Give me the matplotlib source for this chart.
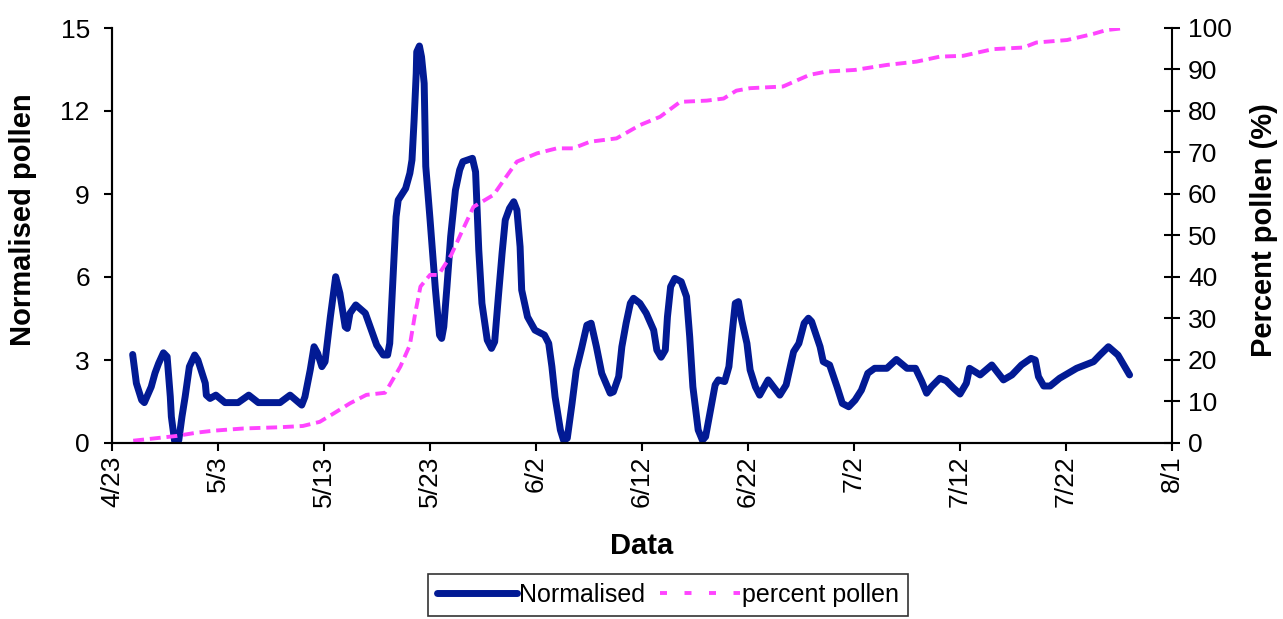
import matplotlib
matplotlib.use("Agg")
import matplotlib.pyplot as plt
import numpy as np
import pandas as pd

plt.rcParams['font.family'] = ['Liberation Sans', 'DejaVu Sans']

# days after 4/23
norm_days = [1.95, 2.3, 2.8, 3.05, 3.7, 4.06, 4.4, 4.85, 5.2, 5.5, 5.6, 5.9, 6.3, 6.6, 6.9,
             7.3, 7.8, 8.1, 8.8, 8.9, 9.25, 9.8, 10.66, 11.9, 12.9, 13.8, 15.85, 16.8, 17.9,
             18.2, 18.7, 19.06, 19.4, 19.8, 20.1, 20.6, 21.1, 21.5, 22.0, 22.2, 22.45, 23.0,
             23.9, 24.3, 24.97, 25.6, 26.0, 26.2, 26.5, 26.8, 27.0, 27.7, 28.1, 28.3, 28.5,
             28.7, 28.75, 29.0, 29.2, 29.45, 29.6, 30.0, 30.5, 30.9, 31.1, 31.3, 31.6, 31.95,
             32.4, 32.8, 33.1, 34.0, 34.3, 34.6, 34.9, 35.4, 35.8, 36.1, 36.45, 36.8, 37.1,
             37.5, 37.9, 38.2, 38.5, 38.65, 39.2, 39.9, 40.8, 41.2, 41.5, 41.8, 42.3, 42.6,
             42.95, 43.4, 43.8, 44.3, 44.8, 45.2, 45.7, 46.2, 47.0, 47.3, 47.8, 48.1, 48.5,
             48.9, 49.2, 49.8, 50.4, 51.1, 51.4, 51.8, 52.2, 52.4, 52.7, 53.1, 53.7, 54.2,
             54.5, 54.8, 55.3, 55.7, 56.0, 56.4, 56.9, 57.2, 57.8, 58.2, 58.5, 58.8, 59.1,
             59.4, 59.9, 60.2, 60.7, 61.1, 61.9, 63.0, 63.6, 64.3, 64.8, 65.3, 65.7, 66.0,
             66.8, 67.1, 67.7, 68.4, 68.9, 69.5, 70.1, 70.7, 71.3, 71.95, 73.1, 74.0, 75.0,
             75.8, 76.4, 76.85, 77.3, 78.1, 78.7, 79.4, 80.0, 80.6, 80.9, 81.9, 83.0, 84.1,
             84.9, 85.8, 86.7, 87.1, 87.4, 87.9, 88.5, 89.4, 91.0, 92.6, 93.2, 94.0, 94.9, 96.0]
normalised = [3.2, 2.16, 1.55, 1.46, 2.03, 2.53, 2.88, 3.26, 3.12, 1.67, 0.95, 0.08, 0.1, 0.95, 1.67,
              2.76, 3.18, 3.0, 2.16, 1.73, 1.61, 1.73, 1.46, 1.46, 1.73, 1.46, 1.46, 1.73, 1.37,
              1.67, 2.64, 3.48, 3.24, 2.76, 2.94, 4.56, 6.01, 5.41, 4.2, 4.14, 4.69, 4.99,
              4.69, 4.26, 3.54, 3.18, 3.18, 3.6, 5.89, 8.18, 8.78, 9.2, 9.75, 10.23, 11.67,
              13.36, 14.14, 14.35, 13.96, 13.0, 10.0, 8.1, 5.6, 3.9, 3.78, 4.2, 5.65, 7.46,
              9.14, 9.87, 10.17, 10.29, 9.8, 6.98, 5.05, 3.72, 3.42, 3.66, 5.29, 6.86, 8.06,
              8.48, 8.72, 8.42, 7.09, 5.53, 4.56, 4.08, 3.9, 3.6, 2.76, 1.67, 0.47, 0.1,
              0.17, 1.43, 2.64, 3.42, 4.26, 4.33, 3.48, 2.52, 1.8, 1.85, 2.4, 3.48, 4.33,
              5.05, 5.23, 5.05, 4.69, 4.08, 3.36, 3.1, 3.36, 4.56, 5.65, 5.95, 5.83, 5.29,
              3.84, 2.03, 0.47, 0.1, 0.23, 1.07, 2.1, 2.28, 2.22, 2.76, 3.96, 5.05, 5.11,
              4.45, 3.6, 2.64, 2.03, 1.73, 2.28, 1.73, 2.1, 3.3, 3.6, 4.33, 4.51, 4.39,
              3.48, 2.94, 2.82, 2.03, 1.43, 1.31, 1.55, 1.91, 2.52, 2.7, 2.7, 3.02, 2.7,
              2.7, 2.22, 1.8, 2.03, 2.34, 2.25, 1.98, 1.77, 2.16, 2.7, 2.46, 2.82, 2.28,
              2.46, 2.82, 3.06, 3.0, 2.4, 2.06, 2.06, 2.34, 2.7, 2.94, 3.18, 3.48, 3.18, 2.46]

pct_days = [2.0, 6.1, 8.0, 9.6, 12.4, 15.85, 18.0, 19.6, 20.9, 22.45, 24.0, 25.75, 26.2, 27.2,
            28.1, 28.6, 29.1, 30.0, 30.8, 32.0, 33.0, 34.1, 36.0, 37.2, 38.2, 40.1, 41.95,
            43.5, 45.1, 47.6, 49.8, 51.7, 53.6, 56.1, 57.7, 58.9, 60.2, 63.3, 65.8, 67.4,
            70.1, 73.1, 75.9, 78.1, 80.3, 83.1, 86.0, 87.2, 90.1, 92.6, 93.8, 95.6]
percent_pollen = [0.55, 1.7, 2.5, 2.97, 3.5, 3.8, 4.1, 5.1, 7.1, 9.56, 11.6, 12.1, 14.0, 18.4,
                  23.6, 31.2, 37.7, 40.5, 40.5, 45.3, 50.9, 56.9, 59.8, 64.2, 67.8, 69.8, 71.0,
                  71.0, 72.6, 73.4, 76.6, 78.6, 82.2, 82.5, 83.0, 84.9, 85.5, 85.9, 88.7, 89.5,
                  89.9, 91.1, 91.9, 93.1, 93.3, 94.9, 95.3, 96.5, 97.1, 98.6, 99.5, 100.0]

tick_labels = ["4/23", "5/3", "5/13", "5/23", "6/2", "6/12", "6/22", "7/2", "7/12", "7/22", "8/1"]

start = pd.Timestamp("2004-04-23")
x_norm = start + pd.to_timedelta(norm_days, unit="D")
x_pct = start + pd.to_timedelta(pct_days, unit="D")
tick_dates = [start + pd.Timedelta(days=10 * i) for i in range(len(tick_labels))]

blue = "#021a94"
pink = "#ff44ff"

fig = plt.figure(figsize=(12.83, 6.19), dpi=100)
ax = fig.add_axes([112 / 1283, 1 - 443 / 619, 1060 / 1283, 415 / 619])
ax2 = ax.twinx()

l1, = ax.plot(x_norm, normalised, color=blue, lw=5, solid_joinstyle="round",
              solid_capstyle="round", label="Normalised")
l2, = ax2.plot(x_pct, percent_pollen, color=pink, lw=2.8, dashes=(2.8, 1.5),
               label="percent pollen")

ax.set_xlim(tick_dates[0], tick_dates[-1])
ax.set_ylim(0, 15)
ax2.set_ylim(0, 100)
ax.set_yticks(np.arange(0, 16, 3))
ax2.set_yticks(np.arange(0, 101, 10))
ax.set_xticks(tick_dates)
ax.set_xticklabels(tick_labels, rotation=90)

for a in (ax, ax2):
    a.spines["top"].set_visible(False)
    for s in a.spines.values():
        s.set_linewidth(1.5)
ax.spines["right"].set_visible(False)

ax.tick_params(axis="y", direction="out", length=6, width=1.5, labelsize=19, pad=10)
ax.tick_params(axis="x", direction="out", length=6, width=1.5, labelsize=19, pad=3)
ax2.tick_params(axis="y", direction="inout", length=11, width=1.5, labelsize=19, pad=6)

ax.set_xlabel("Data", fontsize=21, fontweight="bold")
ax.xaxis.set_label_coords(0.5, -0.2145)
ax.set_ylabel("Normalised pollen", fontsize=21, fontweight="bold")
ax.yaxis.set_label_coords(-0.0708, 0.537)
ax2.set_ylabel("Percent pollen (%)", fontsize=21, fontweight="bold")
ax2.yaxis.set_label_coords(1.0736, 0.513)

# legend keys: Excel draws the dashed key sparser than the line itself
key_blue = plt.Line2D([], [], color=blue, lw=5, solid_capstyle="round")
key_pink = plt.Line2D([], [], color=pink, lw=2.8, dashes=(1.8, 4.5))
leg = fig.legend(handles=[key_blue, key_pink], labels=["Normalised", "percent pollen"],
                 loc="upper center", bbox_to_anchor=(668 / 1283, 1 - 574 / 619),
                 ncol=2, fontsize=18, frameon=True, fancybox=False, handlelength=3.2,
                 handletextpad=0.1, columnspacing=0.6, borderpad=0.35, borderaxespad=0)
leg.get_frame().set_edgecolor("black")
leg.get_frame().set_linewidth(1.2)

fig.savefig("out.png", dpi=100)
